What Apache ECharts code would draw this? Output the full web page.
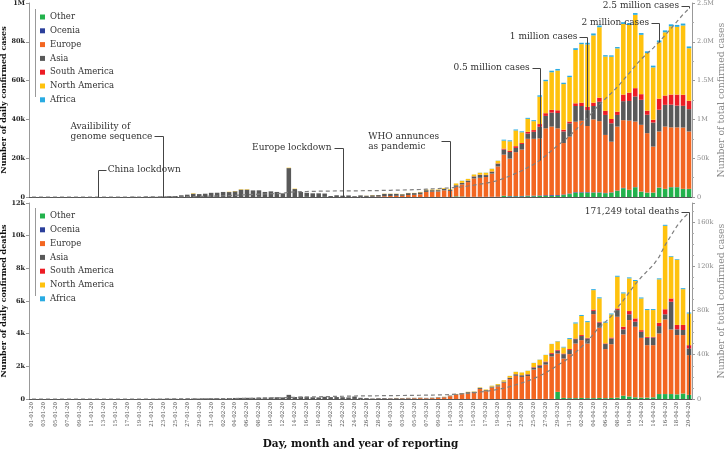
<!DOCTYPE html>
<html><head><meta charset="utf-8">
<script src="https://cdn.jsdelivr.net/npm/echarts@6/dist/echarts.min.js"></script>
<style>html,body{margin:0;padding:0;background:#fff}#c{width:724px;height:449px}</style>
</head><body><div id="c"></div>
<script>
const dates = [
'01-01-20','02-01-20','03-01-20','04-01-20','05-01-20','06-01-20','07-01-20','08-01-20','09-01-20','10-01-20',
'11-01-20','12-01-20','13-01-20','14-01-20','15-01-20','16-01-20','17-01-20','18-01-20','19-01-20','20-01-20',
'21-01-20','22-01-20','23-01-20','24-01-20','25-01-20','26-01-20','27-01-20','28-01-20','29-01-20','30-01-20',
'31-01-20','01-02-20','02-02-20','03-02-20','04-02-20','05-02-20','06-02-20','07-02-20','08-02-20','09-02-20',
'10-02-20','11-02-20','12-02-20','13-02-20','14-02-20','15-02-20','16-02-20','17-02-20','18-02-20','19-02-20',
'20-02-20','21-02-20','22-02-20','23-02-20','24-02-20','25-02-20','26-02-20','27-02-20','28-02-20','29-02-20',
'01-03-20','02-03-20','03-03-20','04-03-20','05-03-20','06-03-20','07-03-20','08-03-20','09-03-20','10-03-20',
'11-03-20','12-03-20','13-03-20','14-03-20','15-03-20','16-03-20','17-03-20','18-03-20','19-03-20','20-03-20',
'21-03-20','22-03-20','23-03-20','24-03-20','25-03-20','26-03-20','27-03-20','28-03-20','29-03-20','30-03-20',
'31-03-20','01-04-20','02-04-20','03-04-20','04-04-20','05-04-20','06-04-20','07-04-20','08-04-20','09-04-20',
'10-04-20','11-04-20','12-04-20','13-04-20','14-04-20','15-04-20','16-04-20','17-04-20','18-04-20','19-04-20',
'20-04-20'];

const regions = ['Other','Ocenia','Europe','Asia','South America','North America','Africa'];
const regionColors = ['#22b24c','#2b3f9b','#f36621','#595959','#ed1c24','#ffc20e','#29abe2'];

// ---- daily confirmed cases ----
const casesOther = [
0,0,0,0,0,0,0,0,0,0, 0,0,0,0,0,0,0,0,0,0, 0,0,0,0,0,0,0,0,0,0,
0,0,0,0,0,0,0,0,40,0, 0,0,0,0,0,0,70,0,0,80, 0,0,0,0,0,0,0,0,0,0,
0,0,0,0,0,0,0,0,0,0, 0,300,200,0,0,0,0,0,0,500,
300,300,300,400,400,500,500,600,600,1000,
1500,2200,2200,2200,2200,2200,1900,2200,3100,4500,
3600,5000,2700,2200,2200,4800,4100,5000,5000,4100, 4100];
const casesOceania = [
0,0,0,0,0,0,0,0,0,0, 0,0,0,0,0,0,0,0,0,0, 0,0,0,0,0,0,0,0,0,0,
0,0,0,0,0,0,0,0,0,0, 0,0,0,0,0,0,0,0,0,0, 0,0,0,0,0,0,0,0,0,0,
0,5,5,5,10,10,20,20,30,40, 50,50,60,70,80,100,100,100,150,150,
200,200,250,300,300,300,400,400,400,300,
300,300,300,300,200,200,200,200,200,200,
100,100,100,100,100,100,100,100,100,100, 100];
const casesEurope = [
0,0,0,0,0,0,0,0,0,0, 0,0,0,0,0,0,0,0,0,0, 0,0,0,0,3,0,0,1,0,0,
2,5,0,1,0,0,2,1,3,0, 1,4,0,0,1,0,0,0,0,0, 0,0,0,10,20,30,50,100,200,400,
500,600,600,1000,1100,1400,2600,2700,2800,3400,
3100,4900,6200,7600,9500,9800,10200,12000,15600,21200,
19300,22600,23900,29300,29300,29400,34500,35300,34400,26500,
29300,36300,36800,34100,37600,36700,29900,26100,33000,34900,
35700,33800,34400,30600,23700,28900,32100,30800,30800,31600, 29600];
const casesAsia = [
0,0,0,0,0,0,0,0,0,0, 0,0,1,1,4,17,4,136,19,151,
140,97,259,441,500,880,1200,1700,1500,1700,
2150,2200,2600,2550,2950,3800,3800,3400,3400,2600,
2900,2600,1900,14900,4100,2600,2100,1900,1900,1700,
500,900,700,800,400,800,600,800,800,1200,
1100,1000,800,1000,900,1000,900,800,700,700,
600,800,800,800,1000,1500,1000,900,1400,2600,
3400,2200,2900,2700,3600,6000,6400,7200,7900,6000,
6900,8100,7600,8200,6900,10000,10300,9500,6000,9800,
10100,12900,12900,9500,12400,11200,11200,11700,11200,11200, 11500];
const casesSouthAmerica = [
0,0,0,0,0,0,0,0,0,0, 0,0,0,0,0,0,0,0,0,0, 0,0,0,0,0,0,0,0,0,0,
0,0,0,0,0,0,0,0,0,0, 0,0,0,0,0,0,0,0,0,0, 0,0,0,0,0,0,0,0,0,0,
0,0,0,0,0,1,2,3,5,10, 20,30,50,50,100,100,100,200,200,500,
700,900,500,900,900,1400,1400,1400,1400,900,
900,1400,1700,1700,1700,2100,2100,2200,1700,3400,
4300,4300,2900,2100,1400,5700,4800,5200,5700,5700, 4300];
const casesNorthAmerica = [
0,0,0,0,0,0,0,0,0,0, 0,0,0,0,0,0,0,0,0,1, 0,1,0,0,1,2,0,200,0,0,
1,1,1,150,150,200,200,0,0,0, 0,0,1,200,200,0,0,0,0,0, 0,0,0,0,10,20,50,100,30,100,
100,100,100,100,100,200,300,300,300,400,
400,900,1000,800,900,1000,1100,1300,1300,4100,
4800,8100,5500,6700,4600,14100,16500,19400,20500,23500,
22900,27500,30200,32100,34700,36300,28000,32100,32600,36400,
34900,37800,30600,29700,27000,29000,32600,35200,34900,35700, 27100];
const casesAfrica = [
0,0,0,0,0,0,0,0,0,0, 0,0,0,0,0,0,0,0,0,0, 0,0,0,0,0,0,0,0,0,0,
0,0,0,0,0,0,0,0,0,0, 0,0,0,0,0,0,0,0,0,0, 0,0,0,0,0,0,0,0,1,0,
1,2,2,3,5,5,10,10,10,10, 10,20,100,30,50,60,80,100,100,500,
500,500,500,500,500,700,700,800,800,700,
700,900,700,900,1000,900,700,700,700,900,
900,900,900,900,900,1000,1000,1000,1000,1000, 900];

// ---- daily confirmed deaths ----
const deathsOther = [
0,0,0,0,0,0,0,0,0,0, 0,0,0,0,0,0,0,0,0,0, 0,0,0,0,0,0,0,0,0,0,
0,0,0,0,0,0,0,0,0,0, 0,0,0,0,0,0,0,0,0,0, 0,0,0,0,0,0,0,0,0,0,
0,0,0,0,0,0,0,0,0,0, 0,0,0,0,0,0,0,0,0,0,
0,0,0,0,0,0,0,0,430,60,
50,50,60,50,50,60,50,60,80,200,
150,100,80,80,100,300,300,300,280,330, 250];
const deathsOceania = [
0,0,0,0,0,0,0,0,0,0, 0,0,0,0,0,0,0,0,0,0, 0,0,0,0,0,0,0,0,0,0,
0,0,0,0,0,0,0,0,0,0, 0,0,0,0,0,0,0,0,0,0, 0,0,0,0,0,0,0,0,0,0,
0,0,0,0,0,0,0,0,0,0, 0,0,0,0,0,0,0,0,0,0,
1,2,2,3,3,4,5,5,6,6,
8,5,5,6,5,4,5,5,5,5,
5,5,5,5,5,5,5,5,5,5, 5];
const deathsEurope = [
0,0,0,0,0,0,0,0,0,0, 0,0,0,0,0,0,0,0,0,0, 0,0,0,0,0,0,0,0,0,0,
0,0,0,0,0,0,0,0,0,0, 0,0,0,0,0,1,0,0,0,0, 0,0,1,1,2,3,5,5,10,10,
15,20,25,30,40,50,40,50,80,100,
170,260,300,370,380,620,480,700,770,1000,
1220,1420,1350,1400,1800,1900,2100,2600,2350,2410,
2690,3340,3540,3340,5140,4300,3000,3290,4950,3750,
4680,4320,3660,3210,3190,3710,4570,3950,3630,3580, 2430];
const deathsAsia = [
0,0,0,0,0,0,0,0,0,0, 1,0,0,0,0,1,0,0,0,3,
0,9,8,16,15,15,25,26,26,38,
43,46,45,57,64,66,73,73,86,89,
97,108,97,254,121,143,143,105,98,136,
115,118,109,97,150,71,52,29,44,47,
35,42,31,38,31,30,30,30,30,30,
40,40,50,50,60,60,60,60,70,60,
80,90,100,100,120,150,150,160,170,270,
250,270,250,310,200,310,310,350,410,310,
350,310,370,450,470,450,310,1700,350,310, 410];
const deathsSouthAmerica = [
0,0,0,0,0,0,0,0,0,0, 0,0,0,0,0,0,0,0,0,0, 0,0,0,0,0,0,0,0,0,0,
0,0,0,0,0,0,0,0,0,0, 0,0,0,0,0,0,0,0,0,0, 0,0,0,0,0,0,0,0,0,0,
0,0,0,0,0,0,0,0,0,0, 0,0,0,0,0,1,1,2,3,5,
10,10,10,20,30,30,40,50,50,40,
60,40,60,40,80,60,40,60,100,160,
200,200,100,60,40,200,310,200,270,310, 200];
const deathsNorthAmerica = [
0,0,0,0,0,0,0,0,0,0, 0,0,0,0,0,0,0,0,0,0, 0,0,0,0,0,0,0,0,0,0,
0,0,0,0,0,0,0,0,0,0, 0,0,0,0,0,0,0,0,0,0, 0,0,0,0,0,0,0,0,0,0,
1,5,3,4,3,4,1,4,4,8,
5,10,10,20,20,30,40,50,70,80,
100,140,160,200,250,320,400,550,520,370,
610,920,1170,960,1190,1430,1270,1410,1940,2040,
2000,2290,1940,1640,1640,2660,5110,2560,3990,2190, 1940];
const deathsAfrica = [
0,0,0,0,0,0,0,0,0,0, 0,0,0,0,0,0,0,0,0,0, 0,0,0,0,0,0,0,0,0,0,
0,0,0,0,0,0,0,0,0,0, 0,0,0,0,0,0,0,0,0,0, 0,0,0,0,0,0,0,0,0,0,
0,0,0,0,0,0,0,0,0,0, 1,1,1,2,2,3,3,4,5,5,
5,5,5,10,10,10,10,10,20,40,
60,60,60,60,60,60,60,60,60,60,
60,60,60,60,60,60,60,40,40,60, 60];

// ---- tick labels (as printed in the source chart) ----
const casesLeftTicks = ['0','20k','40k','60k','80k','1M'];
const casesRightTicks = ['0','50k','1M','1.5M','2.0M','2.5M'];
const deathsLeftTicks = ['0','2k','4k','6k','8k','10k','12k'];
const deathsRightTicks = ['0','40k','80k','120k','160k'];

// ---- annotations ----
const eventNotes = [
  {date:'12-01-20', text:'China lockdown', side:'right', ly:170, ty:170},
  {date:'23-01-20', text:'Availibility of\ngenome sequence', side:'left', ly:136, ty:132},
  {date:'22-02-20', text:'Europe lockdown', side:'left', ly:148, ty:148},
  {date:'11-03-20', text:'WHO annunces\nas pandemic', side:'left', ly:141, ty:142}
];
const caseMilestones = [
  {date:'26-03-20', text:'0.5 million cases', ly:68},
  {date:'03-04-20', text:'1 million cases', ly:37},
  {date:'15-04-20', text:'2 million cases', ly:23},
  {date:'20-04-20', text:'2.5 million cases', ly:6}
];
const deathNote = {date:'20-04-20', text:'171,249 total deaths', ly:212};

const caseSeries = [casesOther,casesOceania,casesEurope,casesAsia,casesSouthAmerica,casesNorthAmerica,casesAfrica];
const deathSeries = [deathsOther,deathsOceania,deathsEurope,deathsAsia,deathsSouthAmerica,deathsNorthAmerica,deathsAfrica];

function running(seriesList){
  let acc = 0;
  return dates.map((d,i)=>{ seriesList.forEach(s=>acc+=s[i]); return acc; });
}
const cumCases = running(caseSeries);
const cumDeaths = running(deathSeries);

const FONT = 'DejaVu Serif';
const chart = echarts.init(document.getElementById('c'), null, {renderer:'canvas'});

function tickFmt(labels, step){
  return v => (Math.abs(v/step - Math.round(v/step))<1e-6 && labels[Math.round(v/step)]!==undefined) ? labels[Math.round(v/step)] : '';
}

const series = [];
[caseSeries, deathSeries].forEach((list, p)=>{
  list.forEach((data, r)=>{
    series.push({
      type:'bar', name:regions[r], xAxisIndex:p, yAxisIndex:p*2, stack:'s'+p,
      data:data, barCategoryGap:'24%', itemStyle:{color:regionColors[r]},
      emphasis:{disabled:true}, silent:true
    });
  });
});
series.push({type:'line', name:'cumCases', xAxisIndex:0, yAxisIndex:1, data:cumCases, showSymbol:false, symbol:'none',
  lineStyle:{type:[4,3], color:'#7f7f7f', width:1.2}, z:5, silent:true});
series.push({type:'line', name:'cumDeaths', xAxisIndex:1, yAxisIndex:3, data:cumDeaths, showSymbol:false, symbol:'none',
  lineStyle:{type:[4,3], color:'#7f7f7f', width:1.2}, z:5, silent:true});

const xCommon = {
  type:'category', data:dates,
  axisLine:{lineStyle:{color:'#555', width:1}},
  axisTick:{interval:1, alignWithLabel:true, length:3, lineStyle:{color:'#555'}},
  splitLine:{show:false}
};
const leftY = (labels, max, step, name) => ({
  type:'value', position:'left', min:0, max:max, interval:step,
  axisLine:{show:true, lineStyle:{color:'#999'}},
  axisTick:{show:true, length:3, lineStyle:{color:'#999'}},
  splitLine:{show:false},
  axisLabel:{formatter:tickFmt(labels, step), fontFamily:FONT, fontWeight:'bold', fontSize:6.5, color:'#222', margin:4},
  name:name, nameLocation:'middle', nameGap:21, nameMoveOverlap:false,
  nameTextStyle:{fontFamily:FONT, fontWeight:'bold', fontSize:8, color:'#111'}
});
const rightY = (labels, max, step, minorSplit) => ({
  type:'value', position:'right', min:0, max:max, interval:step,
  axisLine:{show:true, lineStyle:{color:'#999'}},
  axisTick:{show:true, length:3, lineStyle:{color:'#999'}},
  minorTick:{show:true, splitNumber:minorSplit, length:2, lineStyle:{color:'#aaa'}},
  splitLine:{show:false}, minorSplitLine:{show:false},
  axisLabel:{formatter:tickFmt(labels, step), fontFamily:FONT, fontSize:6.5, color:'#888', margin:5, showMaxLabel:true},
  name:'Number of total confirmed cases', nameLocation:'middle', nameGap:25, nameRotate:90, nameMoveOverlap:false,
  nameTextStyle:{fontFamily:FONT, fontSize:9.3, color:'#888'}
});

const legendCommon = {
  orient:'vertical', left:35, data:regions, icon:'rect', itemWidth:5, itemHeight:5, itemGap:1.8,
  selectedMode:false,
  textStyle:{fontFamily:FONT, fontSize:8.5, color:'#333', lineHeight:12}
};

chart.setOption({
  animation:false,
  backgroundColor:'#fff',
  grid:[
    {left:29, right:32, top:3, height:194, outerBoundsMode:'none', containLabel:false},
    {left:29, right:32, top:203, height:196, outerBoundsMode:'none', containLabel:false}
  ],
  legend:[Object.assign({top:6}, legendCommon), Object.assign({top:205}, legendCommon)],
  xAxis:[
    Object.assign({gridIndex:0, axisLabel:{show:false}}, xCommon),
    Object.assign({gridIndex:1,
      axisLabel:{interval:1, rotate:90, fontFamily:FONT, fontSize:5.5, color:'#555', margin:3},
      name:'Day, month and year of reporting', nameLocation:'middle', nameGap:40, nameMoveOverlap:false,
      nameTextStyle:{fontFamily:FONT, fontWeight:'bold', fontSize:10.5, color:'#111'}}, xCommon)
  ],
  yAxis:[
    Object.assign({gridIndex:0}, leftY(casesLeftTicks, 100000, 20000, 'Number of daily confirmed cases')),
    Object.assign({gridIndex:0}, rightY(casesRightTicks, 2500000, 500000, 2)),
    Object.assign({gridIndex:1}, leftY(deathsLeftTicks, 12000, 2000, 'Number of daily confirmed deaths')),
    Object.assign({gridIndex:1}, rightY(deathsRightTicks, 177000, 40000, 4))
  ],
  series:series
});

// ---- annotation graphics, positioned through the chart's own scales ----
const measureCtx = document.createElement('canvas').getContext('2d');
function textWidth(txt, size){
  measureCtx.font = size + 'px "' + FONT + '"';
  return Math.max.apply(null, txt.split('\n').map(l=>measureCtx.measureText(l).width));
}
const FS = 9, STROKE = '#444';
const graphics = [];
function addText(txt, x, y){
  graphics.push({type:'text', x:x, y:y, silent:true, z:100,
    style:{text:txt, fontFamily:FONT, fontSize:FS, fill:'#333', align:'left', verticalAlign:'middle', lineHeight:10}});
}
function addLine(pts){
  graphics.push({type:'polyline', silent:true, z:99,
    shape:{points:pts.map(p=>[Math.round(p[0])+0.5, Math.round(p[1])+0.5])},
    style:{stroke:STROKE, lineWidth:1, fill:null}});
}
const idx = d => dates.indexOf(d);
const base0 = chart.convertToPixel({yAxisIndex:0}, 0);
const base1 = chart.convertToPixel({yAxisIndex:2}, 0);

eventNotes.forEach(n=>{
  const x = chart.convertToPixel({xAxisIndex:0}, idx(n.date));
  const w = textWidth(n.text, FS);
  if (n.side === 'right') {
    addLine([[x+8, n.ly],[x, n.ly],[x, base0]]);
    addText(n.text, x+10, n.ty);
  } else {
    addLine([[x-9, n.ly],[x, n.ly],[x, base0]]);
    addText(n.text, x-11-w, n.ty);
  }
});
caseMilestones.forEach(n=>{
  const i = idx(n.date);
  const x = chart.convertToPixel({xAxisIndex:0}, i);
  const yEnd = chart.convertToPixel({yAxisIndex:1}, cumCases[i]);
  const w = textWidth(n.text, FS);
  addLine([[x-8, n.ly],[x, n.ly],[x, Math.max(yEnd, n.ly)]]);
  addText(n.text, x-10-w, n.ly);
});
(function(){
  const i = idx(deathNote.date);
  const x = chart.convertToPixel({xAxisIndex:1}, i);
  const w = textWidth(deathNote.text, FS);
  addLine([[x-8, deathNote.ly],[x, deathNote.ly],[x, base1]]);
  addText(deathNote.text, x-10-w, deathNote.ly);
})();
// legend side rules
graphics.push({type:'line', silent:true, shape:{x1:35.5,y1:9,x2:35.5,y2:97}, style:{stroke:'#999', lineWidth:1}});
graphics.push({type:'line', silent:true, shape:{x1:35.5,y1:208,x2:35.5,y2:296}, style:{stroke:'#999', lineWidth:1}});

chart.setOption({graphic:graphics});
</script></body></html>
